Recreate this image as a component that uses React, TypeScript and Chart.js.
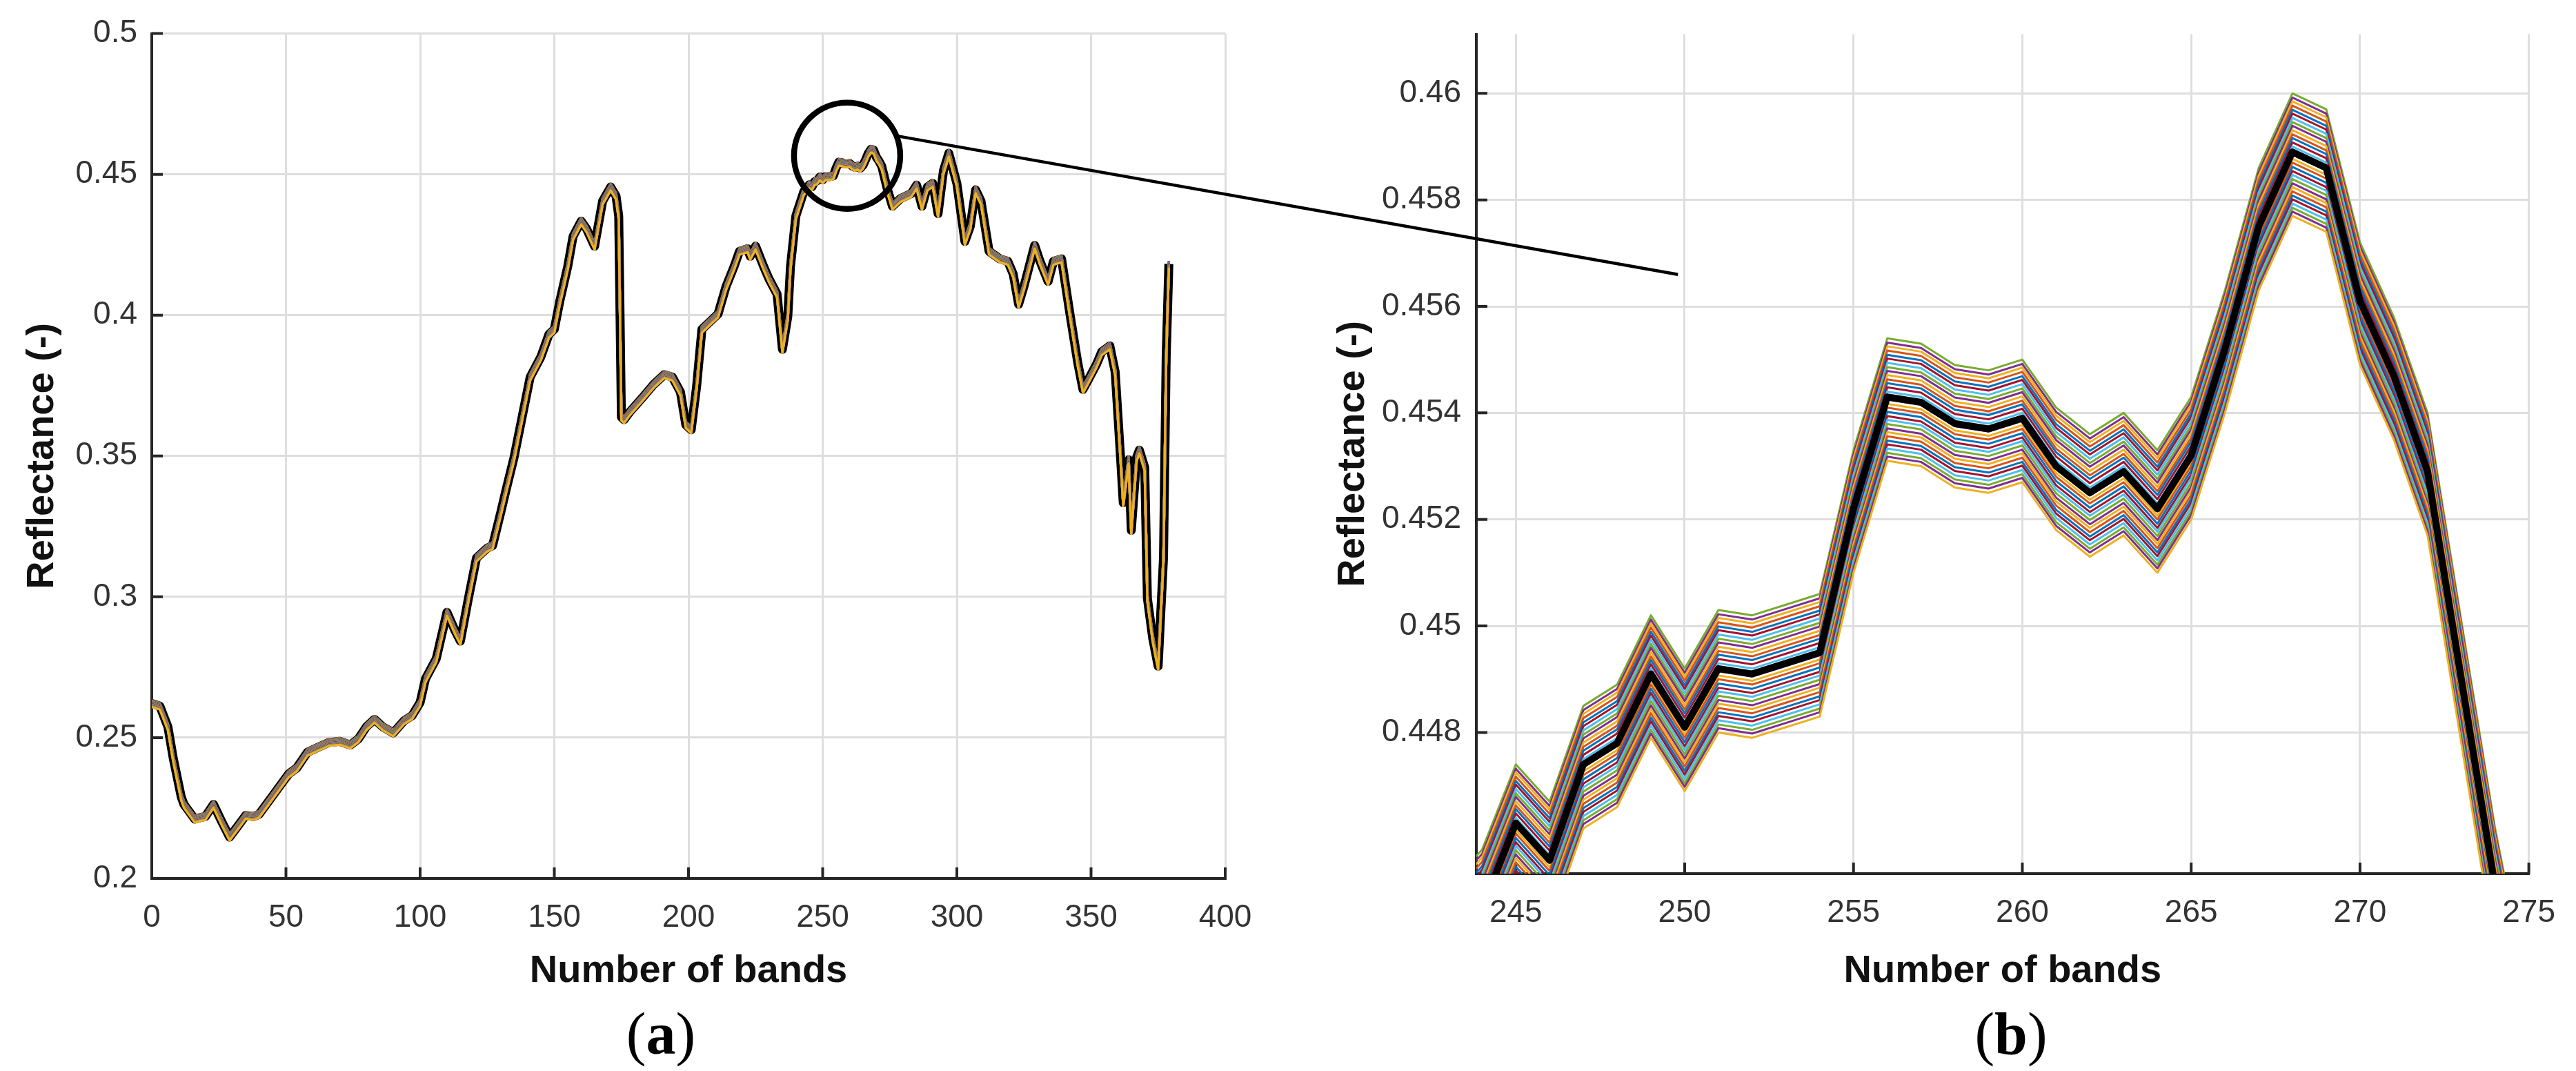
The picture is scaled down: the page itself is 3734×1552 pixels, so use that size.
import React, { useEffect, useRef } from 'react';
import { Chart, registerables } from 'chart.js';

Chart.register(...registerables);

// ---------- DATA ----------
// band index of each sampled point of the mean spectrum
const bands = [
  0, 3, 6, 8, 11, 12, 14, 16, 18, 20, 23, 26, 29, 32, 35, 38, 40, 44, 48, 51, 54, 58, 62, 66, 70, 74, 77, 80, 83, 86, 90, 94, 97,
  100, 102, 106, 110, 113, 115, 118, 121, 125, 127, 130, 132, 135, 138, 141, 145, 148, 150, 152, 155, 157, 160, 162, 165, 168,
  171, 173, 174, 175, 176, 178, 183, 187, 191, 194, 197, 199, 201, 203, 205, 208, 211, 214, 217, 219, 222, 223, 225, 228, 230,
  233, 235, 237, 238, 240, 243, 244, 245, 246, 247, 248, 249, 250, 251, 252, 253, 254, 255, 256, 257, 258, 259, 260, 261, 262,
  263, 264, 265, 266, 267, 268, 269, 270, 271, 272, 273, 274, 276, 279, 283, 285, 287, 289, 291, 293, 295, 297, 300, 303, 305,
  307, 309, 312, 316, 319, 321, 323, 325, 329, 331, 334, 336, 339, 342, 345, 347, 349, 352, 354, 357, 359, 361, 362, 364, 365,
  367, 368, 370, 371, 373, 375, 377, 378, 379,
];
// reflectance of the mean (black) spectrum at those bands
const meanReflectance = [
  0.2621, 0.2612, 0.2539, 0.2427, 0.2289, 0.2263, 0.2237, 0.2211, 0.2216, 0.222, 0.2263, 0.2203, 0.2147, 0.2185, 0.2224, 0.222,
  0.2228, 0.228, 0.2332, 0.2371, 0.2392, 0.2448, 0.2466, 0.2483, 0.2487, 0.2474, 0.2496, 0.2539, 0.2565, 0.2539, 0.2517, 0.256,
  0.2578, 0.2625, 0.2709, 0.278, 0.2945, 0.288, 0.2843, 0.2995, 0.3138, 0.3173, 0.3182, 0.3298, 0.3379, 0.3495, 0.3638, 0.378,
  0.3852, 0.3932, 0.395, 0.4048, 0.4173, 0.428, 0.4334, 0.4307, 0.4245, 0.4405, 0.4455, 0.4423, 0.4352, 0.3638, 0.3629, 0.3655,
  0.3709, 0.3754, 0.3789, 0.378, 0.3727, 0.3611, 0.3593, 0.3745, 0.395, 0.3977, 0.4004, 0.4102, 0.4173, 0.4227, 0.4236, 0.4209,
  0.4245, 0.4173, 0.4129, 0.4075, 0.3879, 0.3995, 0.4173, 0.4352, 0.444, 0.4447, 0.4463, 0.4456, 0.4474, 0.4478, 0.4491, 0.4481,
  0.4492, 0.4491, 0.4493, 0.4495, 0.4522, 0.4543, 0.4542, 0.4538, 0.4537, 0.4539, 0.453, 0.4525, 0.4529, 0.4522, 0.4532, 0.4552,
  0.4575, 0.4589, 0.4586, 0.4561, 0.4547, 0.4529, 0.449, 0.4451, 0.4387, 0.4414, 0.4432, 0.4462, 0.4387, 0.4455, 0.4468, 0.4361,
  0.4513, 0.4575, 0.4468, 0.4262, 0.4316, 0.4445, 0.4405, 0.4227, 0.42, 0.4191, 0.4146, 0.4039, 0.4102, 0.4248, 0.4191, 0.412,
  0.4191, 0.42, 0.4013, 0.3834, 0.3736, 0.3771, 0.3825, 0.387, 0.3891, 0.3798, 0.3495, 0.3334, 0.3486, 0.3236, 0.3495, 0.3521,
  0.3459, 0.2995, 0.2852, 0.2754, 0.3138, 0.3852, 0.4182,
];
// vertical offset of each coloured spectrum from the mean (bottom to top)
const spectrumOffsets = [
  -0.0012, -0.00112, -0.00105, -0.00097, -0.00089, -0.00082, -0.00074, -0.00066, -0.00059, -0.00051, -0.00043, -0.00036,
  -0.00028, -0.0002, -0.00013, -0.00005, 0.00003, 0.0001, 0.00018, 0.00026, 0.00033, 0.00041, 0.00049, 0.00056, 0.00064,
  0.00072, 0.00079, 0.00087, 0.00095, 0.00102, 0.0011,
];
const lineColors = ['#0072BD', '#D95319', '#EDB120', '#7E2F8E', '#77AC30', '#4DBEEE', '#A2142F'];
const firstColorIndex = 2;

const xTicksA = [0, 50, 100, 150, 200, 250, 300, 350, 400];
const yTicksA = [0.2, 0.25, 0.3, 0.35, 0.4, 0.45, 0.5];
const xTicksB = [245, 250, 255, 260, 265, 270, 275];
const yTicksB = [0.448, 0.45, 0.452, 0.454, 0.456, 0.458, 0.46];
const xRangeA = [0, 400];
const yRangeA = [0.2, 0.5];
const xRangeB = [243.83, 275];
const yRangeB = [0.44535, 0.46111];

const zoomCircle = { band: 259.1, value: 0.4566 };
const connectorEnd = { band: 249.8, value: 0.4566 };

const xTitle = 'Number of bands';
const yTitle = 'Reflectance (-)';

// ---------- STYLE / LAYOUT ----------
const W = 3734;
const H = 1552;
const SANS = "'Liberation Sans', Arial, Helvetica, sans-serif";
const SERIF = "'Liberation Serif', 'Times New Roman', serif";
const AXIS = '#262626';
const GRID = '#dedede';
const TICK_COLOR = '#333333';
const TITLE_COLOR = '#111111';

const fmt = (v: number) => String(+Number(v).toFixed(4));

const innerTicks = {
  id: 'innerTicks',
  beforeDatasetsDraw(chart: any) {
    const { ctx, chartArea: a, scales } = chart;
    const x = scales.x;
    const y = scales.y;
    ctx.save();
    ctx.strokeStyle = AXIS;
    ctx.lineWidth = 4;
    ctx.beginPath();
    x.ticks.forEach((t: any) => {
      const px = x.getPixelForValue(t.value);
      ctx.moveTo(px, a.bottom);
      ctx.lineTo(px, a.bottom - 16);
    });
    y.ticks.forEach((t: any) => {
      const py = y.getPixelForValue(t.value);
      ctx.moveTo(a.left, py);
      ctx.lineTo(a.left + 16, py);
    });
    ctx.stroke();
    ctx.restore();
  },
};

function makeDatasets(colorWidth: number, blackWidth: number, blackOrder: number) {
  const ds: any[] = spectrumOffsets.map((off, i) => ({
    label: 'spectrum ' + (i + 1),
    data: bands.map((b, k) => ({ x: b, y: meanReflectance[k] + off })),
    borderColor: lineColors[(firstColorIndex + i) % lineColors.length],
    borderWidth: colorWidth,
    pointRadius: 0,
    tension: 0,
    clip: 0,
    order: 0,
    borderJoinStyle: 'round',
  }));
  ds.push({
    label: 'mean',
    data: bands.map((b, k) => ({ x: b, y: meanReflectance[k] })),
    borderColor: '#000000',
    borderWidth: blackWidth,
    pointRadius: 0,
    tension: 0,
    clip: 0,
    order: blackOrder,
    borderJoinStyle: 'round',
  });
  return ds;
}

function makeConfig(opts: {
  xRange: number[]; yRange: number[]; xTicks: number[]; yTicks: number[];
  yWidth: number; xHeight: number; padding: any; yLabelPad: number;
  colorWidth: number; blackWidth: number; blackOrder: number;
}): any {
  return {
    type: 'line',
    data: { datasets: makeDatasets(opts.colorWidth, opts.blackWidth, opts.blackOrder) },
    plugins: [innerTicks],
    options: {
      responsive: false,
      animation: false,
      events: [],
      devicePixelRatio: 1,
      layout: { padding: opts.padding },
      plugins: { legend: { display: false }, tooltip: { enabled: false } },
      scales: {
        x: {
          type: 'linear',
          min: opts.xRange[0],
          max: opts.xRange[1],
          afterBuildTicks: (s: any) => { s.ticks = opts.xTicks.map((v) => ({ value: v })); },
          afterFit: (s: any) => { s.height = opts.xHeight; },
          grid: { color: GRID, lineWidth: 3, drawTicks: false },
          border: { display: true, color: AXIS, width: 4 },
          ticks: {
            padding: 30, color: TICK_COLOR, maxRotation: 0, autoSkip: false,
            font: { family: SANS, size: 46 },
            callback: (v: number) => fmt(v),
          },
          title: {
            display: true, text: xTitle, color: TITLE_COLOR,
            font: { family: SANS, size: 56, weight: 'bold' },
            padding: { top: 0, bottom: 111 },
          },
        },
        y: {
          type: 'linear',
          min: opts.yRange[0],
          max: opts.yRange[1],
          afterBuildTicks: (s: any) => { s.ticks = opts.yTicks.map((v) => ({ value: v })); },
          afterFit: (s: any) => { s.width = opts.yWidth; },
          grid: { color: GRID, lineWidth: 3, drawTicks: false },
          border: { display: true, color: AXIS, width: 4 },
          ticks: {
            padding: opts.yLabelPad, color: TICK_COLOR, autoSkip: false,
            font: { family: SANS, size: 46 },
            callback: (v: number) => fmt(v),
          },
          title: {
            display: true, text: yTitle, color: TITLE_COLOR,
            font: { family: SANS, size: 56, weight: 'bold' },
            padding: { top: 28, bottom: 0 },
          },
        },
      },
    },
  };
}

const A_LEFT = 0;
const A_W = 1900;
const B_LEFT = 1900;
const B_W = W - B_LEFT;

export default function App() {
  const refA = useRef<HTMLCanvasElement | null>(null);
  const refB = useRef<HTMLCanvasElement | null>(null);
  const refO = useRef<HTMLCanvasElement | null>(null);

  useEffect(() => {
    const chartA = new Chart(refA.current as HTMLCanvasElement, makeConfig({
      xRange: xRangeA, yRange: yRangeA, xTicks: xTicksA, yTicks: yTicksA,
      yWidth: 220, xHeight: 279, padding: { left: 0, top: 42, right: A_W - 1776, bottom: 0 },
      yLabelPad: 21, colorWidth: 3.5, blackWidth: 13, blackOrder: 100,
    }));
    const chartB = new Chart(refB.current as HTMLCanvasElement, makeConfig({
      xRange: xRangeB, yRange: yRangeB, xTicks: xTicksB, yTicks: yTicksB,
      yWidth: 240, xHeight: 286, padding: { left: 0, top: 42, right: B_W - 1783, bottom: 0 },
      yLabelPad: 22, colorWidth: 3, blackWidth: 10, blackOrder: -1,
    }));

    // zoom annotation: circle on (a) and connector to (b)
    const o = refO.current as HTMLCanvasElement;
    const ctx = o.getContext('2d') as CanvasRenderingContext2D;
    ctx.clearRect(0, 0, W, H);
    const cx = A_LEFT + chartA.scales.x.getPixelForValue(zoomCircle.band);
    const cy = chartA.scales.y.getPixelForValue(zoomCircle.value);
    const r = 77;
    ctx.strokeStyle = '#000';
    ctx.lineWidth = 8.5;
    ctx.beginPath();
    ctx.arc(cx, cy, r, 0, Math.PI * 2);
    ctx.stroke();
    const ang = (-22 * Math.PI) / 180;
    const sx = cx + r * Math.cos(ang);
    const sy = cy + r * Math.sin(ang);
    const ex = B_LEFT + chartB.scales.x.getPixelForValue(connectorEnd.band);
    const ey = chartB.scales.y.getPixelForValue(connectorEnd.value);
    ctx.lineWidth = 4.5;
    ctx.beginPath();
    ctx.moveTo(sx, sy);
    ctx.lineTo(ex, ey);
    ctx.stroke();

    return () => {
      chartA.destroy();
      chartB.destroy();
    };
  }, []);

  const caption = (cxPos: number): React.CSSProperties => ({
    position: 'absolute', top: 1455, left: cxPos, transform: 'translateX(-50%)',
    fontFamily: SERIF, fontSize: 86, lineHeight: '86px', color: '#000', whiteSpace: 'nowrap',
  });

  return (
    <div style={{ position: 'absolute', left: 0, top: 0, width: W, height: H, background: '#fff', overflow: 'hidden' }}>
      <canvas ref={refA} width={A_W} height={H} style={{ position: 'absolute', left: A_LEFT, top: 0, width: A_W, height: H }} />
      <canvas ref={refB} width={B_W} height={H} style={{ position: 'absolute', left: B_LEFT, top: 0, width: B_W, height: H }} />
      <canvas ref={refO} width={W} height={H} style={{ position: 'absolute', left: 0, top: 0, width: W, height: H, pointerEvents: 'none' }} />
      <div style={caption(958)}>(<b>a</b>)</div>
      <div style={caption(2915)}>(<b>b</b>)</div>
    </div>
  );
}
